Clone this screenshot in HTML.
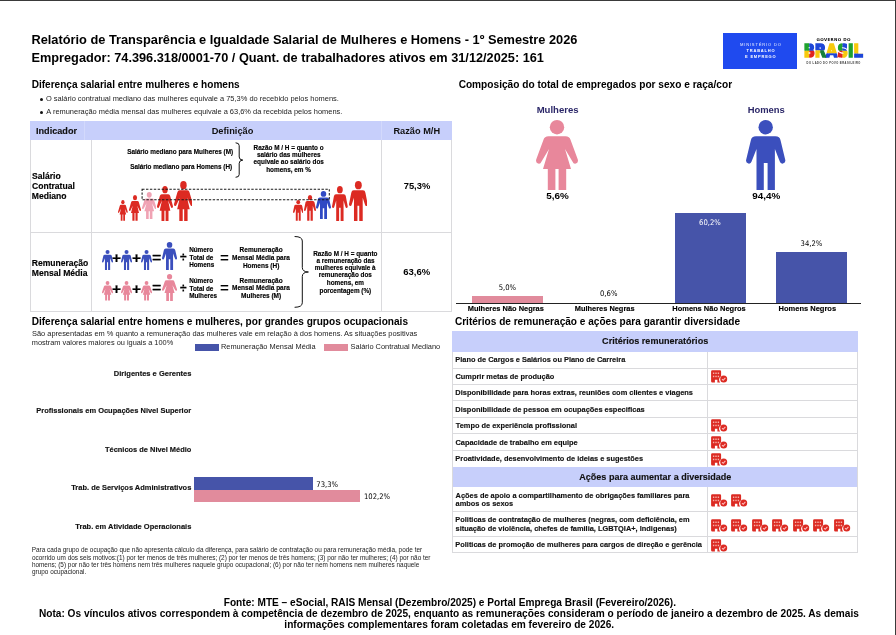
<!DOCTYPE html>
<html lang="pt-BR"><head><meta charset="utf-8"><title>Relatório de Transparência e Igualdade Salarial</title>
<style>
html,body{margin:0;padding:0;background:#fff}
body{width:896px;height:635px;position:relative;overflow:hidden;font-family:"Liberation Sans",sans-serif;color:#000}
.t{position:absolute;white-space:nowrap;margin:0;padding:0}
.r{position:absolute;display:block}
</style></head><body>
<div class="r" style="left:0.00px;top:0.00px;width:896.00px;height:1.00px;background:#3a3a3a;"></div>
<div class="r" style="left:895.00px;top:0.00px;width:1.00px;height:635.00px;background:#3a3a3a;"></div>
<div class="t" style="left:31.47px;top:32px;font-size:12.79px;line-height:16px;font-weight:700;">Relatório de Transparência e Igualdade Salarial de Mulheres e Homens - 1º Semestre 2026</div>
<div class="t" style="left:31.47px;top:50px;font-size:12.74px;line-height:16px;font-weight:700;">Empregador: 74.396.318/0001-70 / Quant. de trabalhadores ativos em 31/12/2025: 161</div>
<div class="r" style="left:723.00px;top:33.00px;width:73.50px;height:35.50px;background:#1f4aef;"></div>
<div class="t" style="left:739.97px;top:42px;font-size:4.10px;line-height:6px;color:#e6ebff;letter-spacing:0.809px;">MINISTÉRIO DO</div>
<div class="t" style="left:746.56px;top:48px;font-size:4.00px;line-height:5px;font-weight:700;color:#fff;letter-spacing:0.791px;">TRABALHO</div>
<div class="t" style="left:745.04px;top:54px;font-size:4.00px;line-height:5px;font-weight:700;color:#fff;letter-spacing:0.798px;">E EMPREGO</div>
<div class="t" style="left:816.52px;top:37px;font-size:4.10px;line-height:6px;font-weight:700;color:#111;font-family:'DejaVu Sans',sans-serif;letter-spacing:0.321px;">GOVERNO DO</div>
<div class="t" style="left:806.53px;top:62px;font-size:2.60px;line-height:4px;font-weight:700;color:#333;letter-spacing:0.490px;">DO LADO DO POVO BRASILEIRO</div>
<svg class="r" style="left:798px;top:38px" width="72" height="24" viewBox="798 38 72 24">
<defs><pattern id="pLogo" patternUnits="userSpaceOnUse" x="798" y="38" width="72" height="24"><rect x="0.0" y="0.0" width="11.3" height="12.8" fill="#1fa22e"/><rect x="11.3" y="0.0" width="5.7" height="12.8" fill="#1d46d8"/><rect x="0.0" y="12.8" width="11.3" height="11.2" fill="#f7c90c"/><rect x="11.3" y="12.8" width="5.7" height="11.2" fill="#e0231c"/><rect x="17.0" y="0.0" width="11.0" height="12.4" fill="#1d46d8"/><rect x="17.0" y="12.4" width="5.3" height="11.6" fill="#f7c90c"/><rect x="22.3" y="12.4" width="5.7" height="11.6" fill="#15803a"/><rect x="28.0" y="0.0" width="11.4" height="15.4" fill="#f7c90c"/><rect x="28.0" y="15.4" width="11.4" height="8.6" fill="#1d46d8"/><rect x="39.4" y="0.0" width="5.2" height="12.8" fill="#1fa22e"/><rect x="44.6" y="0.0" width="5.4" height="12.8" fill="#1d46d8"/><rect x="39.4" y="12.8" width="5.2" height="11.2" fill="#e0231c"/><rect x="44.6" y="12.8" width="5.4" height="11.2" fill="#f7c90c"/><rect x="50.0" y="0.0" width="5.6" height="24.0" fill="#1fa22e"/><rect x="55.6" y="0.0" width="16.4" height="15.6" fill="#f7c90c"/><rect x="55.6" y="15.6" width="16.4" height="8.4" fill="#1d46d8"/></pattern></defs>
<text x="803.7" y="57.2" textLength="59.1" lengthAdjust="spacingAndGlyphs" font-family="DejaVu Sans, sans-serif" font-weight="bold" font-size="17.6" fill="url(#pLogo)" stroke="url(#pLogo)" stroke-width="1.7" stroke-linejoin="miter">BRASIL</text>
</svg>
<div class="t" style="left:31.65px;top:78px;font-size:10.07px;line-height:13px;font-weight:700;">Diferença salarial entre mulheres e homens</div>
<div class="t" style="left:458.64px;top:78px;font-size:10.13px;line-height:13px;font-weight:700;">Composição do total de empregados por sexo e raça/cor</div>
<div class="t" style="left:31.64px;top:315px;font-size:10.09px;line-height:13px;font-weight:700;">Diferença salarial entre homens e mulheres, por grandes grupos ocupacionais</div>
<div class="t" style="left:454.90px;top:315px;font-size:10.09px;line-height:13px;font-weight:700;">Critérios de remuneração e ações para garantir diversidade</div>
<div class="r" style="left:39.6px;top:98.1px;width:3.2px;height:3.2px;border-radius:50%;background:#111"></div>
<div class="r" style="left:39.6px;top:110.9px;width:3.2px;height:3.2px;border-radius:50%;background:#111"></div>
<div class="t" style="left:45.96px;top:94px;font-size:7.46px;line-height:10px;color:#222;">O salário contratual mediano das mulheres equivale a 75,3% do recebido pelos homens.</div>
<div class="t" style="left:46.30px;top:107px;font-size:7.45px;line-height:10px;color:#222;">A remuneração média mensal das mulheres equivale a 63,6% da recebida pelos homens.</div>
<div class="r" style="left:30.00px;top:121.00px;width:422.00px;height:18.50px;background:#c7cffb;"></div>
<div class="r" style="left:84.00px;top:121.00px;width:1.00px;height:18.50px;background:rgba(255,255,255,.22);"></div>
<div class="r" style="left:381.00px;top:121.00px;width:1.00px;height:18.50px;background:rgba(255,255,255,.22);"></div>
<div class="r" style="left:30.00px;top:139.50px;width:1.00px;height:172.50px;background:#dadadd;"></div>
<div class="r" style="left:451.00px;top:139.50px;width:1.00px;height:172.50px;background:#dadadd;"></div>
<div class="r" style="left:30.00px;top:311.00px;width:422.00px;height:1.00px;background:#dadadd;"></div>
<div class="r" style="left:30.00px;top:232.00px;width:422.00px;height:1.00px;background:#dadadd;"></div>
<div class="r" style="left:91.00px;top:139.50px;width:1.00px;height:172.50px;background:#dadadd;"></div>
<div class="r" style="left:381.00px;top:139.50px;width:1.00px;height:172.50px;background:#dadadd;"></div>
<div class="t" style="left:35.96px;top:125px;font-size:9.15px;line-height:12px;font-weight:700;color:#111;-webkit-text-stroke:.14px;">Indicador</div>
<div class="t" style="left:211.70px;top:125px;font-size:9.25px;line-height:12px;font-weight:700;color:#111;">Definição</div>
<div class="t" style="left:393.45px;top:125px;font-size:9.23px;line-height:12px;font-weight:700;color:#111;">Razão M/H</div>
<div class="t" style="left:31.96px;top:181px;font-size:8.58px;line-height:11px;font-weight:700;-webkit-text-stroke:.14px;">Contratual</div>
<div class="t" style="left:32.09px;top:171px;font-size:8.58px;line-height:11px;font-weight:700;-webkit-text-stroke:.14px;">Salário</div>
<div class="t" style="left:31.74px;top:191px;font-size:8.58px;line-height:11px;font-weight:700;-webkit-text-stroke:.14px;">Mediano</div>
<div class="t" style="left:31.74px;top:258px;font-size:8.55px;line-height:11px;font-weight:700;-webkit-text-stroke:.14px;">Remuneração</div>
<div class="t" style="left:31.74px;top:268px;font-size:8.58px;line-height:11px;font-weight:700;-webkit-text-stroke:.14px;">Mensal Média</div>
<div class="t" style="left:403.68px;top:180px;font-size:9.37px;line-height:12px;font-weight:700;">75,3%</div>
<div class="t" style="left:403.22px;top:266px;font-size:9.53px;line-height:12px;font-weight:700;">63,6%</div>
<div class="t" style="left:127.14px;top:147px;font-size:6.41px;line-height:9px;font-weight:700;-webkit-text-stroke:.14px;">Salário mediano para Mulheres (M)</div>
<div class="t" style="left:130.14px;top:163px;font-size:6.38px;line-height:8px;font-weight:700;-webkit-text-stroke:.14px;">Salário mediano para Homens (H)</div>
<svg class="r" style="left:230px;top:138px" width="20" height="44" viewBox="230 138 20 44"><path d="M235.6 142.8Q239.2 142.9 239.2 145.6V157Q239.2 159.9 242.8 160.1Q239.2 160.3 239.2 163.2V174.5Q239.2 177.2 235.6 177.3" fill="none" stroke="#111" stroke-width="1"/></svg>
<div class="t" style="left:253.53px;top:158px;font-size:6.40px;line-height:8px;font-weight:700;-webkit-text-stroke:.14px;">equivale ao salário dos</div>
<div class="t" style="left:253.55px;top:144px;font-size:6.40px;line-height:8px;font-weight:700;-webkit-text-stroke:.14px;">Razão M / H = quanto o</div>
<div class="t" style="left:256.91px;top:151px;font-size:6.40px;line-height:8px;font-weight:700;-webkit-text-stroke:.14px;">salário das mulheres</div>
<div class="t" style="left:266.21px;top:166px;font-size:6.40px;line-height:8px;font-weight:700;-webkit-text-stroke:.14px;">homens, em %</div>
<svg class="r" style="left:118.25px;top:200.30px" width="9.75" height="20.70" viewBox="0 0 42 70" preserveAspectRatio="none"><circle cx="21" cy="7.2" r="7.2" fill="#dc2a22"/><path d="M12.5 16.3H29.5Q33.5 16.3 34.6 20L41.8 39.5Q42.6 42.5 40 43.5Q37.5 44.2 36.6 41.8L29 29L35 49.1H30.2V70H22.6V49.1H19.4V70H11.8V49.1H7L13 29L5.4 41.8Q4.5 44.2 2 43.5Q-.6 42.5 .2 39.5L7.4 20Q8.5 16.3 12.5 16.3Z" fill="#dc2a22"/></svg>
<svg class="r" style="left:129.25px;top:195.30px" width="12.00" height="25.70" viewBox="0 0 42 70" preserveAspectRatio="none"><circle cx="21" cy="7.2" r="7.2" fill="#dc2a22"/><path d="M12.5 16.3H29.5Q33.5 16.3 34.6 20L41.8 39.5Q42.6 42.5 40 43.5Q37.5 44.2 36.6 41.8L29 29L35 49.1H30.2V70H22.6V49.1H19.4V70H11.8V49.1H7L13 29L5.4 41.8Q4.5 44.2 2 43.5Q-.6 42.5 .2 39.5L7.4 20Q8.5 16.3 12.5 16.3Z" fill="#dc2a22"/></svg>
<svg class="r" style="left:141.75px;top:192.00px" width="14.50" height="27.40" viewBox="0 0 42 70" preserveAspectRatio="none"><circle cx="21" cy="7.2" r="7.2" fill="#f0a3b4"/><path d="M12.5 16.3H29.5Q33.5 16.3 34.6 20L41.8 39.5Q42.6 42.5 40 43.5Q37.5 44.2 36.6 41.8L29 29L35 49.1H30.2V70H22.6V49.1H19.4V70H11.8V49.1H7L13 29L5.4 41.8Q4.5 44.2 2 43.5Q-.6 42.5 .2 39.5L7.4 20Q8.5 16.3 12.5 16.3Z" fill="#f0a3b4"/></svg>
<svg class="r" style="left:157.00px;top:185.75px" width="16.00" height="35.25" viewBox="0 0 42 70" preserveAspectRatio="none"><circle cx="21" cy="7.2" r="7.2" fill="#dc2a22"/><path d="M12.5 16.3H29.5Q33.5 16.3 34.6 20L41.8 39.5Q42.6 42.5 40 43.5Q37.5 44.2 36.6 41.8L29 29L35 49.1H30.2V70H22.6V49.1H19.4V70H11.8V49.1H7L13 29L5.4 41.8Q4.5 44.2 2 43.5Q-.6 42.5 .2 39.5L7.4 20Q8.5 16.3 12.5 16.3Z" fill="#dc2a22"/></svg>
<svg class="r" style="left:173.60px;top:180.75px" width="18.90" height="40.25" viewBox="0 0 42 70" preserveAspectRatio="none"><circle cx="21" cy="7.2" r="7.2" fill="#dc2a22"/><path d="M12.5 16.3H29.5Q33.5 16.3 34.6 20L41.8 39.5Q42.6 42.5 40 43.5Q37.5 44.2 36.6 41.8L29 29L35 49.1H30.2V70H22.6V49.1H19.4V70H11.8V49.1H7L13 29L5.4 41.8Q4.5 44.2 2 43.5Q-.6 42.5 .2 39.5L7.4 20Q8.5 16.3 12.5 16.3Z" fill="#dc2a22"/></svg>
<svg class="r" style="left:292.50px;top:200.30px" width="10.50" height="20.70" viewBox="0 0 39.4 70" preserveAspectRatio="none"><circle cx="19.7" cy="7.2" r="7.2" fill="#dc2a22"/><path d="M10 16.3H29.4Q33.8 16.3 34.6 20.5L39.3 40Q39.8 43 37 43.6Q34.5 44 33.8 41.5L28.9 29V70H21.6V43H17.8V70H10.5V29L5.6 41.5Q4.9 44 2.4 43.6Q-.4 43 .1 40L4.8 20.5Q5.6 16.3 10 16.3Z" fill="#dc2a22"/></svg>
<svg class="r" style="left:303.75px;top:195.30px" width="12.00" height="25.70" viewBox="0 0 39.4 70" preserveAspectRatio="none"><circle cx="19.7" cy="7.2" r="7.2" fill="#dc2a22"/><path d="M10 16.3H29.4Q33.8 16.3 34.6 20.5L39.3 40Q39.8 43 37 43.6Q34.5 44 33.8 41.5L28.9 29V70H21.6V43H17.8V70H10.5V29L5.6 41.5Q4.9 44 2.4 43.6Q-.4 43 .1 40L4.8 20.5Q5.6 16.3 10 16.3Z" fill="#dc2a22"/></svg>
<svg class="r" style="left:316.25px;top:191.25px" width="15.00" height="28.15" viewBox="0 0 39.4 70" preserveAspectRatio="none"><circle cx="19.7" cy="7.2" r="7.2" fill="#2f49c4"/><path d="M10 16.3H29.4Q33.8 16.3 34.6 20.5L39.3 40Q39.8 43 37 43.6Q34.5 44 33.8 41.5L28.9 29V70H21.6V43H17.8V70H10.5V29L5.6 41.5Q4.9 44 2.4 43.6Q-.4 43 .1 40L4.8 20.5Q5.6 16.3 10 16.3Z" fill="#2f49c4"/></svg>
<svg class="r" style="left:331.75px;top:185.75px" width="15.75" height="35.25" viewBox="0 0 39.4 70" preserveAspectRatio="none"><circle cx="19.7" cy="7.2" r="7.2" fill="#dc2a22"/><path d="M10 16.3H29.4Q33.8 16.3 34.6 20.5L39.3 40Q39.8 43 37 43.6Q34.5 44 33.8 41.5L28.9 29V70H21.6V43H17.8V70H10.5V29L5.6 41.5Q4.9 44 2.4 43.6Q-.4 43 .1 40L4.8 20.5Q5.6 16.3 10 16.3Z" fill="#dc2a22"/></svg>
<svg class="r" style="left:348.80px;top:180.75px" width="18.70" height="40.25" viewBox="0 0 39.4 70" preserveAspectRatio="none"><circle cx="19.7" cy="7.2" r="7.2" fill="#dc2a22"/><path d="M10 16.3H29.4Q33.8 16.3 34.6 20.5L39.3 40Q39.8 43 37 43.6Q34.5 44 33.8 41.5L28.9 29V70H21.6V43H17.8V70H10.5V29L5.6 41.5Q4.9 44 2.4 43.6Q-.4 43 .1 40L4.8 20.5Q5.6 16.3 10 16.3Z" fill="#dc2a22"/></svg>
<svg class="r" style="left:140px;top:186px" width="192" height="16" viewBox="140 186 192 16"><rect x="142.1" y="189.2" width="187.2" height="10.6" fill="none" stroke="#1a1a1a" stroke-width="1.05" stroke-dasharray="2.4 1.5"/></svg>
<svg class="r" style="left:101.50px;top:250.00px" width="11.10" height="20.00" viewBox="0 0 39.4 70" preserveAspectRatio="none"><circle cx="19.7" cy="7.2" r="7.2" fill="#3b4fbd"/><path d="M10 16.3H29.4Q33.8 16.3 34.6 20.5L39.3 40Q39.8 43 37 43.6Q34.5 44 33.8 41.5L28.9 29V70H21.6V43H17.8V70H10.5V29L5.6 41.5Q4.9 44 2.4 43.6Q-.4 43 .1 40L4.8 20.5Q5.6 16.3 10 16.3Z" fill="#3b4fbd"/></svg>
<svg class="r" style="left:121.40px;top:250.00px" width="11.10" height="20.00" viewBox="0 0 39.4 70" preserveAspectRatio="none"><circle cx="19.7" cy="7.2" r="7.2" fill="#3b4fbd"/><path d="M10 16.3H29.4Q33.8 16.3 34.6 20.5L39.3 40Q39.8 43 37 43.6Q34.5 44 33.8 41.5L28.9 29V70H21.6V43H17.8V70H10.5V29L5.6 41.5Q4.9 44 2.4 43.6Q-.4 43 .1 40L4.8 20.5Q5.6 16.3 10 16.3Z" fill="#3b4fbd"/></svg>
<svg class="r" style="left:141.20px;top:250.00px" width="11.10" height="20.00" viewBox="0 0 39.4 70" preserveAspectRatio="none"><circle cx="19.7" cy="7.2" r="7.2" fill="#3b4fbd"/><path d="M10 16.3H29.4Q33.8 16.3 34.6 20.5L39.3 40Q39.8 43 37 43.6Q34.5 44 33.8 41.5L28.9 29V70H21.6V43H17.8V70H10.5V29L5.6 41.5Q4.9 44 2.4 43.6Q-.4 43 .1 40L4.8 20.5Q5.6 16.3 10 16.3Z" fill="#3b4fbd"/></svg>
<svg class="r" style="left:161.60px;top:242.00px" width="15.10" height="28.00" viewBox="0 0 39.4 70" preserveAspectRatio="none"><circle cx="19.7" cy="7.2" r="7.2" fill="#3b4fbd"/><path d="M10 16.3H29.4Q33.8 16.3 34.6 20.5L39.3 40Q39.8 43 37 43.6Q34.5 44 33.8 41.5L28.9 29V70H21.6V43H17.8V70H10.5V29L5.6 41.5Q4.9 44 2.4 43.6Q-.4 43 .1 40L4.8 20.5Q5.6 16.3 10 16.3Z" fill="#3b4fbd"/></svg>
<svg class="r" style="left:101.50px;top:281.20px" width="11.10" height="19.60" viewBox="0 0 42 70" preserveAspectRatio="none"><circle cx="21" cy="7.2" r="7.2" fill="#e8879b"/><path d="M12.5 16.3H29.5Q33.5 16.3 34.6 20L41.8 39.5Q42.6 42.5 40 43.5Q37.5 44.2 36.6 41.8L29 29L35 49.1H30.2V70H22.6V49.1H19.4V70H11.8V49.1H7L13 29L5.4 41.8Q4.5 44.2 2 43.5Q-.6 42.5 .2 39.5L7.4 20Q8.5 16.3 12.5 16.3Z" fill="#e8879b"/></svg>
<svg class="r" style="left:121.40px;top:281.20px" width="11.10" height="19.60" viewBox="0 0 42 70" preserveAspectRatio="none"><circle cx="21" cy="7.2" r="7.2" fill="#e8879b"/><path d="M12.5 16.3H29.5Q33.5 16.3 34.6 20L41.8 39.5Q42.6 42.5 40 43.5Q37.5 44.2 36.6 41.8L29 29L35 49.1H30.2V70H22.6V49.1H19.4V70H11.8V49.1H7L13 29L5.4 41.8Q4.5 44.2 2 43.5Q-.6 42.5 .2 39.5L7.4 20Q8.5 16.3 12.5 16.3Z" fill="#e8879b"/></svg>
<svg class="r" style="left:141.20px;top:281.20px" width="11.10" height="19.60" viewBox="0 0 42 70" preserveAspectRatio="none"><circle cx="21" cy="7.2" r="7.2" fill="#e8879b"/><path d="M12.5 16.3H29.5Q33.5 16.3 34.6 20L41.8 39.5Q42.6 42.5 40 43.5Q37.5 44.2 36.6 41.8L29 29L35 49.1H30.2V70H22.6V49.1H19.4V70H11.8V49.1H7L13 29L5.4 41.8Q4.5 44.2 2 43.5Q-.6 42.5 .2 39.5L7.4 20Q8.5 16.3 12.5 16.3Z" fill="#e8879b"/></svg>
<svg class="r" style="left:161.60px;top:273.80px" width="15.10" height="27.00" viewBox="0 0 42 70" preserveAspectRatio="none"><circle cx="21" cy="7.2" r="7.2" fill="#e8879b"/><path d="M12.5 16.3H29.5Q33.5 16.3 34.6 20L41.8 39.5Q42.6 42.5 40 43.5Q37.5 44.2 36.6 41.8L29 29L35 49.1H30.2V70H22.6V49.1H19.4V70H11.8V49.1H7L13 29L5.4 41.8Q4.5 44.2 2 43.5Q-.6 42.5 .2 39.5L7.4 20Q8.5 16.3 12.5 16.3Z" fill="#e8879b"/></svg>
<div class="t" style="left:112.07px;top:248px;font-size:15.50px;line-height:20px;font-weight:700;-webkit-text-stroke:.2px #000;">+</div>
<div class="t" style="left:131.97px;top:248px;font-size:15.50px;line-height:20px;font-weight:700;-webkit-text-stroke:.2px #000;">+</div>
<div class="t" style="left:112.07px;top:279px;font-size:15.50px;line-height:20px;font-weight:700;-webkit-text-stroke:.2px #000;">+</div>
<div class="t" style="left:131.97px;top:279px;font-size:15.50px;line-height:20px;font-weight:700;-webkit-text-stroke:.2px #000;">+</div>
<div class="t" style="left:152.11px;top:248px;font-size:16.00px;line-height:20px;-webkit-text-stroke:.3px #000;">=</div>
<div class="t" style="left:219.89px;top:248px;font-size:15.20px;line-height:19px;-webkit-text-stroke:.1px #000;">=</div>
<div class="t" style="left:152.11px;top:278px;font-size:16.00px;line-height:20px;-webkit-text-stroke:.3px #000;">=</div>
<div class="t" style="left:219.89px;top:278px;font-size:15.20px;line-height:19px;-webkit-text-stroke:.1px #000;">=</div>
<div class="t" style="left:179.90px;top:250px;font-size:12.00px;line-height:15px;font-weight:700;-webkit-text-stroke:.2px #000;">÷</div>
<div class="t" style="left:179.90px;top:281px;font-size:12.00px;line-height:15px;font-weight:700;-webkit-text-stroke:.2px #000;">÷</div>
<div class="t" style="left:189.49px;top:254px;font-size:6.37px;line-height:8px;font-weight:700;-webkit-text-stroke:.14px;">Total de</div>
<div class="t" style="left:189.14px;top:246px;font-size:6.37px;line-height:8px;font-weight:700;-webkit-text-stroke:.14px;">Número</div>
<div class="t" style="left:189.14px;top:261px;font-size:6.37px;line-height:8px;font-weight:700;-webkit-text-stroke:.14px;">Homens</div>
<div class="t" style="left:189.14px;top:277px;font-size:6.37px;line-height:8px;font-weight:700;-webkit-text-stroke:.14px;">Número</div>
<div class="t" style="left:189.49px;top:285px;font-size:6.37px;line-height:8px;font-weight:700;-webkit-text-stroke:.14px;">Total de</div>
<div class="t" style="left:189.14px;top:292px;font-size:6.37px;line-height:8px;font-weight:700;-webkit-text-stroke:.14px;">Mulheres</div>
<div class="t" style="left:232.07px;top:253px;font-size:6.51px;line-height:9px;font-weight:700;-webkit-text-stroke:.14px;">Mensal Média para</div>
<div class="t" style="left:239.62px;top:245px;font-size:6.51px;line-height:9px;font-weight:700;-webkit-text-stroke:.14px;">Remuneração</div>
<div class="t" style="left:242.92px;top:261px;font-size:6.51px;line-height:9px;font-weight:700;-webkit-text-stroke:.14px;">Homens (H)</div>
<div class="t" style="left:239.62px;top:276px;font-size:6.51px;line-height:9px;font-weight:700;-webkit-text-stroke:.14px;">Remuneração</div>
<div class="t" style="left:232.07px;top:283px;font-size:6.51px;line-height:9px;font-weight:700;-webkit-text-stroke:.14px;">Mensal Média para</div>
<div class="t" style="left:241.12px;top:291px;font-size:6.51px;line-height:9px;font-weight:700;-webkit-text-stroke:.14px;">Mulheres (M)</div>
<svg class="r" style="left:290px;top:232px" width="24" height="80" viewBox="290 232 24 80"><path d="M294.6 236.5Q302.3 236.6 302.3 241V267.5Q302.3 271.8 308.4 272Q302.3 272.2 302.3 276.5V302.8Q302.3 307.2 294.6 307.3" fill="none" stroke="#111" stroke-width="1"/></svg>
<div class="t" style="left:313.18px;top:250px;font-size:6.39px;line-height:8px;font-weight:700;-webkit-text-stroke:.14px;">Razão M / H = quanto</div>
<div class="t" style="left:316.41px;top:257px;font-size:6.39px;line-height:8px;font-weight:700;-webkit-text-stroke:.14px;">a remuneração das</div>
<div class="t" style="left:314.73px;top:264px;font-size:6.39px;line-height:8px;font-weight:700;-webkit-text-stroke:.14px;">mulheres equivale à</div>
<div class="t" style="left:318.77px;top:271px;font-size:6.39px;line-height:8px;font-weight:700;-webkit-text-stroke:.14px;">remuneração dos</div>
<div class="t" style="left:326.84px;top:279px;font-size:6.39px;line-height:8px;font-weight:700;-webkit-text-stroke:.14px;">homens, em</div>
<div class="t" style="left:319.52px;top:287px;font-size:6.39px;line-height:8px;font-weight:700;-webkit-text-stroke:.14px;">porcentagem (%)</div>
<div class="t" style="left:536.68px;top:104px;font-size:9.55px;line-height:12px;font-weight:700;color:#2b2768;">Mulheres</div>
<div class="t" style="left:747.69px;top:104px;font-size:9.41px;line-height:12px;font-weight:700;color:#2b2768;">Homens</div>
<svg class="r" style="left:536.00px;top:119.50px" width="42.00" height="70.00" viewBox="0 0 42 70" preserveAspectRatio="none"><circle cx="21" cy="7.2" r="7.2" fill="#e8879b"/><path d="M12.5 16.3H29.5Q33.5 16.3 34.6 20L41.8 39.5Q42.6 42.5 40 43.5Q37.5 44.2 36.6 41.8L29 29L35 49.1H30.2V70H22.6V49.1H19.4V70H11.8V49.1H7L13 29L5.4 41.8Q4.5 44.2 2 43.5Q-.6 42.5 .2 39.5L7.4 20Q8.5 16.3 12.5 16.3Z" fill="#e8879b"/></svg>
<svg class="r" style="left:746.30px;top:119.50px" width="39.40" height="70.00" viewBox="0 0 39.4 70" preserveAspectRatio="none"><circle cx="19.7" cy="7.2" r="7.2" fill="#3b4fbd"/><path d="M10 16.3H29.4Q33.8 16.3 34.6 20.5L39.3 40Q39.8 43 37 43.6Q34.5 44 33.8 41.5L28.9 29V70H21.6V43H17.8V70H10.5V29L5.6 41.5Q4.9 44 2.4 43.6Q-.4 43 .1 40L4.8 20.5Q5.6 16.3 10 16.3Z" fill="#3b4fbd"/></svg>
<div class="t" style="left:752.21px;top:189px;font-size:9.89px;line-height:13px;font-weight:700;">94,4%</div>
<div class="t" style="left:546.20px;top:189px;font-size:9.89px;line-height:13px;font-weight:700;">5,6%</div>
<div class="r" style="left:472.00px;top:295.50px;width:70.50px;height:7.50px;background:#e18b9c;"></div>
<div class="r" style="left:674.50px;top:213.25px;width:71.25px;height:89.75px;background:#4654a9;"></div>
<div class="r" style="left:775.75px;top:252.00px;width:71.25px;height:51.00px;background:#4654a9;"></div>
<div class="r" style="left:456.25px;top:302.75px;width:405.00px;height:1.00px;background:#222;"></div>
<div class="t" style="left:498.74px;top:283px;font-size:7.60px;line-height:10px;font-family:'DejaVu Sans Condensed','DejaVu Sans',sans-serif;">5,0%</div>
<div class="t" style="left:600.03px;top:289px;font-size:7.60px;line-height:10px;font-family:'DejaVu Sans Condensed','DejaVu Sans',sans-serif;">0,6%</div>
<div class="t" style="left:699.09px;top:218px;font-size:7.60px;line-height:10px;color:#fff;font-family:'DejaVu Sans Condensed','DejaVu Sans',sans-serif;">60,2%</div>
<div class="t" style="left:800.58px;top:239px;font-size:7.60px;line-height:10px;font-family:'DejaVu Sans Condensed','DejaVu Sans',sans-serif;">34,2%</div>
<div class="t" style="left:467.82px;top:304px;font-size:7.45px;line-height:10px;font-weight:700;-webkit-text-stroke:.14px;">Mulheres Não Negras</div>
<div class="t" style="left:574.82px;top:304px;font-size:7.41px;line-height:10px;font-weight:700;-webkit-text-stroke:.14px;">Mulheres Negras</div>
<div class="t" style="left:672.31px;top:304px;font-size:7.47px;line-height:10px;font-weight:700;-webkit-text-stroke:.14px;">Homens Não Negros</div>
<div class="t" style="left:778.56px;top:304px;font-size:7.50px;line-height:10px;font-weight:700;-webkit-text-stroke:.14px;">Homens Negros</div>
<div class="t" style="left:31.96px;top:329px;font-size:7.45px;line-height:10px;color:#222;">São apresentadas em % quanto a remuneração das mulheres vale em relação à dos homens. As situações positivas</div>
<div class="t" style="left:31.82px;top:338px;font-size:7.38px;line-height:10px;color:#222;">mostram valores maiores ou iguais a 100%</div>
<div class="r" style="left:194.50px;top:343.75px;width:24.25px;height:7.00px;background:#4654a9;"></div>
<div class="r" style="left:323.75px;top:343.50px;width:24.25px;height:7.25px;background:#e18b9c;"></div>
<div class="t" style="left:220.96px;top:342px;font-size:7.41px;line-height:10px;color:#222;">Remuneração Mensal Média</div>
<div class="t" style="left:350.47px;top:342px;font-size:7.41px;line-height:10px;color:#222;">Salário Contratual Mediano</div>
<div class="t" style="left:36.30px;top:406px;font-size:7.48px;line-height:10px;font-weight:700;color:#111;-webkit-text-stroke:.14px;">Profissionais em Ocupações Nivel Superior</div>
<div class="t" style="left:113.79px;top:369px;font-size:7.52px;line-height:10px;font-weight:700;color:#111;-webkit-text-stroke:.14px;">Dirigentes e Gerentes</div>
<div class="t" style="left:104.98px;top:445px;font-size:7.45px;line-height:10px;font-weight:700;color:#111;-webkit-text-stroke:.14px;">Técnicos de Nivel Médio</div>
<div class="t" style="left:71.23px;top:483px;font-size:7.48px;line-height:10px;font-weight:700;color:#111;-webkit-text-stroke:.14px;">Trab. de Serviços Administrativos</div>
<div class="t" style="left:75.37px;top:522px;font-size:7.51px;line-height:10px;font-weight:700;color:#111;-webkit-text-stroke:.14px;">Trab. em Atividade Operacionais</div>
<div class="r" style="left:193.75px;top:477.00px;width:119.25px;height:12.60px;background:#4654a9;"></div>
<div class="r" style="left:193.75px;top:489.60px;width:166.25px;height:12.40px;background:#e18b9c;"></div>
<div class="t" style="left:316.37px;top:480px;font-size:7.60px;line-height:10px;font-family:'DejaVu Sans Condensed','DejaVu Sans',sans-serif;">73,3%</div>
<div class="t" style="left:363.98px;top:492px;font-size:7.60px;line-height:10px;font-family:'DejaVu Sans Condensed','DejaVu Sans',sans-serif;">102,2%</div>
<div class="t" style="left:31.79px;top:545px;font-size:6.41px;line-height:9px;color:#222;">Para cada grupo de ocupação que não apresenta cálculo da diferença, para salário de contratação ou para remuneração média, pode ter</div>
<div class="t" style="left:32.04px;top:553px;font-size:6.41px;line-height:9px;color:#222;">ocorrido um dos seis motivos:(1) por ter menos de três mulheres; (2) por ter menos de três homens; (3) por não ter mulheres; (4) por não ter</div>
<div class="t" style="left:31.88px;top:560px;font-size:6.41px;line-height:9px;color:#222;">homens; (5) por não ter três homens nem três mulheres naquele grupo ocupacional; (6) por não ter nem homens nem mulheres naquele</div>
<div class="t" style="left:32.04px;top:567px;font-size:6.41px;line-height:9px;color:#222;">grupo ocupacional.</div>
<div class="r" style="left:452.00px;top:331.00px;width:406.00px;height:20.50px;background:#c7cffb;"></div>
<div class="r" style="left:452.00px;top:466.50px;width:406.00px;height:20.00px;background:#c7cffb;"></div>
<div class="t" style="left:602.11px;top:335px;font-size:9.06px;line-height:12px;font-weight:700;color:#111;-webkit-text-stroke:.14px;">Critérios remuneratórios</div>
<div class="t" style="left:579.28px;top:471px;font-size:9.04px;line-height:12px;font-weight:700;color:#111;-webkit-text-stroke:.14px;">Ações para aumentar a diversidade</div>
<div class="r" style="left:452.00px;top:368.00px;width:406.00px;height:1.00px;background:#dadadd;"></div>
<div class="r" style="left:452.00px;top:384.00px;width:406.00px;height:1.00px;background:#dadadd;"></div>
<div class="r" style="left:452.00px;top:400.00px;width:406.00px;height:1.00px;background:#dadadd;"></div>
<div class="r" style="left:452.00px;top:417.00px;width:406.00px;height:1.00px;background:#dadadd;"></div>
<div class="r" style="left:452.00px;top:433.00px;width:406.00px;height:1.00px;background:#dadadd;"></div>
<div class="r" style="left:452.00px;top:450.00px;width:406.00px;height:1.00px;background:#dadadd;"></div>
<div class="r" style="left:452.00px;top:511.00px;width:406.00px;height:1.00px;background:#dadadd;"></div>
<div class="r" style="left:452.00px;top:536.00px;width:406.00px;height:1.00px;background:#dadadd;"></div>
<div class="r" style="left:452.00px;top:552.00px;width:406.00px;height:1.00px;background:#dadadd;"></div>
<div class="r" style="left:452.00px;top:351.50px;width:1.00px;height:201.50px;background:#dadadd;"></div>
<div class="r" style="left:857.00px;top:351.50px;width:1.00px;height:201.50px;background:#dadadd;"></div>
<div class="r" style="left:707.00px;top:351.75px;width:1.00px;height:115.00px;background:#dadadd;"></div>
<div class="r" style="left:707.00px;top:486.75px;width:1.00px;height:66.25px;background:#dadadd;"></div>
<div class="t" style="left:455.32px;top:355px;font-size:7.41px;line-height:10px;font-weight:700;color:#111;-webkit-text-stroke:.14px;">Plano de Cargos e Salários ou Plano de Carreira</div>
<div class="t" style="left:455.50px;top:372px;font-size:7.41px;line-height:10px;font-weight:700;color:#111;-webkit-text-stroke:.14px;">Cumprir metas de produção</div>
<div class="t" style="left:455.32px;top:388px;font-size:7.45px;line-height:10px;font-weight:700;color:#111;-webkit-text-stroke:.14px;">Disponibilidade para horas extras, reuniões com clientes e viagens</div>
<div class="t" style="left:455.32px;top:405px;font-size:7.43px;line-height:10px;font-weight:700;color:#111;-webkit-text-stroke:.14px;">Disponibilidade de pessoa em ocupações especificas</div>
<div class="t" style="left:455.73px;top:421px;font-size:7.41px;line-height:10px;font-weight:700;color:#111;-webkit-text-stroke:.14px;">Tempo de experiência profissional</div>
<div class="t" style="left:455.50px;top:438px;font-size:7.41px;line-height:10px;font-weight:700;color:#111;-webkit-text-stroke:.14px;">Capacidade de trabalho em equipe</div>
<div class="t" style="left:455.32px;top:454px;font-size:7.41px;line-height:10px;font-weight:700;color:#111;-webkit-text-stroke:.14px;">Proatividade, desenvolvimento de ideias e sugestões</div>
<div class="t" style="left:455.61px;top:491px;font-size:7.41px;line-height:10px;font-weight:700;color:#111;-webkit-text-stroke:.14px;">Ações de apoio a compartilhamento de obrigações familiares para</div>
<div class="t" style="left:455.61px;top:499px;font-size:7.41px;line-height:10px;font-weight:700;color:#111;-webkit-text-stroke:.14px;">ambos os sexos</div>
<div class="t" style="left:455.32px;top:515px;font-size:7.41px;line-height:10px;font-weight:700;color:#111;-webkit-text-stroke:.14px;">Politicas de contratação de mulheres (negras, com deficiência, em</div>
<div class="t" style="left:455.54px;top:524px;font-size:7.41px;line-height:10px;font-weight:700;color:#111;-webkit-text-stroke:.14px;">situação de violência, chefes de familia, LGBTQIA+, Indigenas)</div>
<div class="t" style="left:455.32px;top:540px;font-size:7.41px;line-height:10px;font-weight:700;color:#111;-webkit-text-stroke:.14px;">Politicas de promoção de mulheres para cargos de direção e gerência</div>
<svg class="r" style="left:710.80px;top:370.30px" width="17" height="13" viewBox="0 0 17 13"><path d="M1.3 .2H8.9Q10.1 .2 10.1 1.4V6.2A4 4 0 0 0 9.2 12.5H6.4V9.7H3.9V12.5H1.3Q.1 12.5 .1 11.3V1.4Q.1 .2 1.3 .2Z" fill="#dc2a22"/><g fill="#f6b0a8"><rect x="1.9" y="2.5" width="1.4" height="1.5"/><rect x="4.3" y="2.5" width="1.4" height="1.5"/><rect x="6.7" y="2.5" width="1.4" height="1.5"/><rect x="1.9" y="5.7" width="1.4" height="1.5"/><rect x="4.3" y="5.7" width="1.4" height="1.5"/><rect x="6.7" y="5.7" width="1.4" height="1.5"/></g><circle cx="12.7" cy="9" r="3.5" fill="#dc2a22"/><path d="M11 9.1l1.2 1.2 2.2-2.4" stroke="#fbb" stroke-width="1.1" fill="none"/></svg>
<svg class="r" style="left:710.80px;top:419.40px" width="17" height="13" viewBox="0 0 17 13"><path d="M1.3 .2H8.9Q10.1 .2 10.1 1.4V6.2A4 4 0 0 0 9.2 12.5H6.4V9.7H3.9V12.5H1.3Q.1 12.5 .1 11.3V1.4Q.1 .2 1.3 .2Z" fill="#dc2a22"/><g fill="#f6b0a8"><rect x="1.9" y="2.5" width="1.4" height="1.5"/><rect x="4.3" y="2.5" width="1.4" height="1.5"/><rect x="6.7" y="2.5" width="1.4" height="1.5"/><rect x="1.9" y="5.7" width="1.4" height="1.5"/><rect x="4.3" y="5.7" width="1.4" height="1.5"/><rect x="6.7" y="5.7" width="1.4" height="1.5"/></g><circle cx="12.7" cy="9" r="3.5" fill="#dc2a22"/><path d="M11 9.1l1.2 1.2 2.2-2.4" stroke="#fbb" stroke-width="1.1" fill="none"/></svg>
<svg class="r" style="left:710.80px;top:436.10px" width="17" height="13" viewBox="0 0 17 13"><path d="M1.3 .2H8.9Q10.1 .2 10.1 1.4V6.2A4 4 0 0 0 9.2 12.5H6.4V9.7H3.9V12.5H1.3Q.1 12.5 .1 11.3V1.4Q.1 .2 1.3 .2Z" fill="#dc2a22"/><g fill="#f6b0a8"><rect x="1.9" y="2.5" width="1.4" height="1.5"/><rect x="4.3" y="2.5" width="1.4" height="1.5"/><rect x="6.7" y="2.5" width="1.4" height="1.5"/><rect x="1.9" y="5.7" width="1.4" height="1.5"/><rect x="4.3" y="5.7" width="1.4" height="1.5"/><rect x="6.7" y="5.7" width="1.4" height="1.5"/></g><circle cx="12.7" cy="9" r="3.5" fill="#dc2a22"/><path d="M11 9.1l1.2 1.2 2.2-2.4" stroke="#fbb" stroke-width="1.1" fill="none"/></svg>
<svg class="r" style="left:710.80px;top:452.80px" width="17" height="13" viewBox="0 0 17 13"><path d="M1.3 .2H8.9Q10.1 .2 10.1 1.4V6.2A4 4 0 0 0 9.2 12.5H6.4V9.7H3.9V12.5H1.3Q.1 12.5 .1 11.3V1.4Q.1 .2 1.3 .2Z" fill="#dc2a22"/><g fill="#f6b0a8"><rect x="1.9" y="2.5" width="1.4" height="1.5"/><rect x="4.3" y="2.5" width="1.4" height="1.5"/><rect x="6.7" y="2.5" width="1.4" height="1.5"/><rect x="1.9" y="5.7" width="1.4" height="1.5"/><rect x="4.3" y="5.7" width="1.4" height="1.5"/><rect x="6.7" y="5.7" width="1.4" height="1.5"/></g><circle cx="12.7" cy="9" r="3.5" fill="#dc2a22"/><path d="M11 9.1l1.2 1.2 2.2-2.4" stroke="#fbb" stroke-width="1.1" fill="none"/></svg>
<svg class="r" style="left:710.80px;top:538.60px" width="17" height="13" viewBox="0 0 17 13"><path d="M1.3 .2H8.9Q10.1 .2 10.1 1.4V6.2A4 4 0 0 0 9.2 12.5H6.4V9.7H3.9V12.5H1.3Q.1 12.5 .1 11.3V1.4Q.1 .2 1.3 .2Z" fill="#dc2a22"/><g fill="#f6b0a8"><rect x="1.9" y="2.5" width="1.4" height="1.5"/><rect x="4.3" y="2.5" width="1.4" height="1.5"/><rect x="6.7" y="2.5" width="1.4" height="1.5"/><rect x="1.9" y="5.7" width="1.4" height="1.5"/><rect x="4.3" y="5.7" width="1.4" height="1.5"/><rect x="6.7" y="5.7" width="1.4" height="1.5"/></g><circle cx="12.7" cy="9" r="3.5" fill="#dc2a22"/><path d="M11 9.1l1.2 1.2 2.2-2.4" stroke="#fbb" stroke-width="1.1" fill="none"/></svg>
<svg class="r" style="left:711.00px;top:494.10px" width="17" height="13" viewBox="0 0 17 13"><path d="M1.3 .2H8.9Q10.1 .2 10.1 1.4V6.2A4 4 0 0 0 9.2 12.5H6.4V9.7H3.9V12.5H1.3Q.1 12.5 .1 11.3V1.4Q.1 .2 1.3 .2Z" fill="#dc2a22"/><g fill="#f6b0a8"><rect x="1.9" y="2.5" width="1.4" height="1.5"/><rect x="4.3" y="2.5" width="1.4" height="1.5"/><rect x="6.7" y="2.5" width="1.4" height="1.5"/><rect x="1.9" y="5.7" width="1.4" height="1.5"/><rect x="4.3" y="5.7" width="1.4" height="1.5"/><rect x="6.7" y="5.7" width="1.4" height="1.5"/></g><circle cx="12.7" cy="9" r="3.5" fill="#dc2a22"/><path d="M11 9.1l1.2 1.2 2.2-2.4" stroke="#fbb" stroke-width="1.1" fill="none"/></svg>
<svg class="r" style="left:731.45px;top:494.10px" width="17" height="13" viewBox="0 0 17 13"><path d="M1.3 .2H8.9Q10.1 .2 10.1 1.4V6.2A4 4 0 0 0 9.2 12.5H6.4V9.7H3.9V12.5H1.3Q.1 12.5 .1 11.3V1.4Q.1 .2 1.3 .2Z" fill="#dc2a22"/><g fill="#f6b0a8"><rect x="1.9" y="2.5" width="1.4" height="1.5"/><rect x="4.3" y="2.5" width="1.4" height="1.5"/><rect x="6.7" y="2.5" width="1.4" height="1.5"/><rect x="1.9" y="5.7" width="1.4" height="1.5"/><rect x="4.3" y="5.7" width="1.4" height="1.5"/><rect x="6.7" y="5.7" width="1.4" height="1.5"/></g><circle cx="12.7" cy="9" r="3.5" fill="#dc2a22"/><path d="M11 9.1l1.2 1.2 2.2-2.4" stroke="#fbb" stroke-width="1.1" fill="none"/></svg>
<svg class="r" style="left:711.00px;top:518.70px" width="17" height="13" viewBox="0 0 17 13"><path d="M1.3 .2H8.9Q10.1 .2 10.1 1.4V6.2A4 4 0 0 0 9.2 12.5H6.4V9.7H3.9V12.5H1.3Q.1 12.5 .1 11.3V1.4Q.1 .2 1.3 .2Z" fill="#dc2a22"/><g fill="#f6b0a8"><rect x="1.9" y="2.5" width="1.4" height="1.5"/><rect x="4.3" y="2.5" width="1.4" height="1.5"/><rect x="6.7" y="2.5" width="1.4" height="1.5"/><rect x="1.9" y="5.7" width="1.4" height="1.5"/><rect x="4.3" y="5.7" width="1.4" height="1.5"/><rect x="6.7" y="5.7" width="1.4" height="1.5"/></g><circle cx="12.7" cy="9" r="3.5" fill="#dc2a22"/><path d="M11 9.1l1.2 1.2 2.2-2.4" stroke="#fbb" stroke-width="1.1" fill="none"/></svg>
<svg class="r" style="left:731.45px;top:518.70px" width="17" height="13" viewBox="0 0 17 13"><path d="M1.3 .2H8.9Q10.1 .2 10.1 1.4V6.2A4 4 0 0 0 9.2 12.5H6.4V9.7H3.9V12.5H1.3Q.1 12.5 .1 11.3V1.4Q.1 .2 1.3 .2Z" fill="#dc2a22"/><g fill="#f6b0a8"><rect x="1.9" y="2.5" width="1.4" height="1.5"/><rect x="4.3" y="2.5" width="1.4" height="1.5"/><rect x="6.7" y="2.5" width="1.4" height="1.5"/><rect x="1.9" y="5.7" width="1.4" height="1.5"/><rect x="4.3" y="5.7" width="1.4" height="1.5"/><rect x="6.7" y="5.7" width="1.4" height="1.5"/></g><circle cx="12.7" cy="9" r="3.5" fill="#dc2a22"/><path d="M11 9.1l1.2 1.2 2.2-2.4" stroke="#fbb" stroke-width="1.1" fill="none"/></svg>
<svg class="r" style="left:751.90px;top:518.70px" width="17" height="13" viewBox="0 0 17 13"><path d="M1.3 .2H8.9Q10.1 .2 10.1 1.4V6.2A4 4 0 0 0 9.2 12.5H6.4V9.7H3.9V12.5H1.3Q.1 12.5 .1 11.3V1.4Q.1 .2 1.3 .2Z" fill="#dc2a22"/><g fill="#f6b0a8"><rect x="1.9" y="2.5" width="1.4" height="1.5"/><rect x="4.3" y="2.5" width="1.4" height="1.5"/><rect x="6.7" y="2.5" width="1.4" height="1.5"/><rect x="1.9" y="5.7" width="1.4" height="1.5"/><rect x="4.3" y="5.7" width="1.4" height="1.5"/><rect x="6.7" y="5.7" width="1.4" height="1.5"/></g><circle cx="12.7" cy="9" r="3.5" fill="#dc2a22"/><path d="M11 9.1l1.2 1.2 2.2-2.4" stroke="#fbb" stroke-width="1.1" fill="none"/></svg>
<svg class="r" style="left:772.35px;top:518.70px" width="17" height="13" viewBox="0 0 17 13"><path d="M1.3 .2H8.9Q10.1 .2 10.1 1.4V6.2A4 4 0 0 0 9.2 12.5H6.4V9.7H3.9V12.5H1.3Q.1 12.5 .1 11.3V1.4Q.1 .2 1.3 .2Z" fill="#dc2a22"/><g fill="#f6b0a8"><rect x="1.9" y="2.5" width="1.4" height="1.5"/><rect x="4.3" y="2.5" width="1.4" height="1.5"/><rect x="6.7" y="2.5" width="1.4" height="1.5"/><rect x="1.9" y="5.7" width="1.4" height="1.5"/><rect x="4.3" y="5.7" width="1.4" height="1.5"/><rect x="6.7" y="5.7" width="1.4" height="1.5"/></g><circle cx="12.7" cy="9" r="3.5" fill="#dc2a22"/><path d="M11 9.1l1.2 1.2 2.2-2.4" stroke="#fbb" stroke-width="1.1" fill="none"/></svg>
<svg class="r" style="left:792.80px;top:518.70px" width="17" height="13" viewBox="0 0 17 13"><path d="M1.3 .2H8.9Q10.1 .2 10.1 1.4V6.2A4 4 0 0 0 9.2 12.5H6.4V9.7H3.9V12.5H1.3Q.1 12.5 .1 11.3V1.4Q.1 .2 1.3 .2Z" fill="#dc2a22"/><g fill="#f6b0a8"><rect x="1.9" y="2.5" width="1.4" height="1.5"/><rect x="4.3" y="2.5" width="1.4" height="1.5"/><rect x="6.7" y="2.5" width="1.4" height="1.5"/><rect x="1.9" y="5.7" width="1.4" height="1.5"/><rect x="4.3" y="5.7" width="1.4" height="1.5"/><rect x="6.7" y="5.7" width="1.4" height="1.5"/></g><circle cx="12.7" cy="9" r="3.5" fill="#dc2a22"/><path d="M11 9.1l1.2 1.2 2.2-2.4" stroke="#fbb" stroke-width="1.1" fill="none"/></svg>
<svg class="r" style="left:813.25px;top:518.70px" width="17" height="13" viewBox="0 0 17 13"><path d="M1.3 .2H8.9Q10.1 .2 10.1 1.4V6.2A4 4 0 0 0 9.2 12.5H6.4V9.7H3.9V12.5H1.3Q.1 12.5 .1 11.3V1.4Q.1 .2 1.3 .2Z" fill="#dc2a22"/><g fill="#f6b0a8"><rect x="1.9" y="2.5" width="1.4" height="1.5"/><rect x="4.3" y="2.5" width="1.4" height="1.5"/><rect x="6.7" y="2.5" width="1.4" height="1.5"/><rect x="1.9" y="5.7" width="1.4" height="1.5"/><rect x="4.3" y="5.7" width="1.4" height="1.5"/><rect x="6.7" y="5.7" width="1.4" height="1.5"/></g><circle cx="12.7" cy="9" r="3.5" fill="#dc2a22"/><path d="M11 9.1l1.2 1.2 2.2-2.4" stroke="#fbb" stroke-width="1.1" fill="none"/></svg>
<svg class="r" style="left:833.70px;top:518.70px" width="17" height="13" viewBox="0 0 17 13"><path d="M1.3 .2H8.9Q10.1 .2 10.1 1.4V6.2A4 4 0 0 0 9.2 12.5H6.4V9.7H3.9V12.5H1.3Q.1 12.5 .1 11.3V1.4Q.1 .2 1.3 .2Z" fill="#dc2a22"/><g fill="#f6b0a8"><rect x="1.9" y="2.5" width="1.4" height="1.5"/><rect x="4.3" y="2.5" width="1.4" height="1.5"/><rect x="6.7" y="2.5" width="1.4" height="1.5"/><rect x="1.9" y="5.7" width="1.4" height="1.5"/><rect x="4.3" y="5.7" width="1.4" height="1.5"/><rect x="6.7" y="5.7" width="1.4" height="1.5"/></g><circle cx="12.7" cy="9" r="3.5" fill="#dc2a22"/><path d="M11 9.1l1.2 1.2 2.2-2.4" stroke="#fbb" stroke-width="1.1" fill="none"/></svg>
<div class="t" style="left:38.98px;top:607px;font-size:10.12px;line-height:13px;font-weight:700;">Nota: Os vínculos ativos correspondem à competência de dezembro de 2025, enquanto as remunerações consideram o período de janeiro a dezembro de 2025. As demais</div>
<div class="t" style="left:223.77px;top:596px;font-size:10.12px;line-height:13px;font-weight:700;">Fonte: MTE – eSocial, RAIS Mensal (Dezembro/2025) e Portal Emprega Brasil (Fevereiro/2026).</div>
<div class="t" style="left:284.37px;top:618px;font-size:10.14px;line-height:13px;font-weight:700;">informações complementares foram coletadas em fevereiro de 2026.</div>
</body></html>
